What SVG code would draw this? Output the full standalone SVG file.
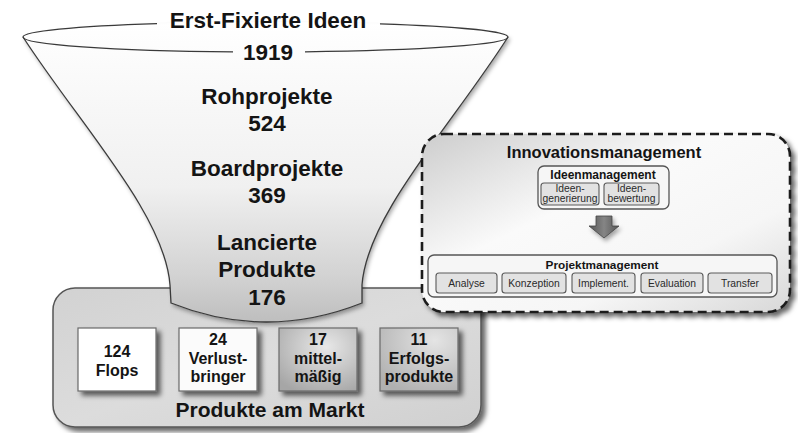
<svg xmlns="http://www.w3.org/2000/svg" width="798" height="433" viewBox="0 0 798 433">
<defs>
<style>
.t{font-family:"Liberation Sans",Arial,sans-serif;font-weight:bold;text-anchor:middle;fill:#141414}
.f{font-size:22.5px}
.b{font-size:16px}
.s{font-family:"Liberation Sans",Arial,sans-serif;text-anchor:middle;fill:#2a2a2a;font-size:10.3px}
.sb{fill:#e2e2e2;stroke:#5a5a5a;stroke-width:1.1}
.pb{stroke:#6a6a6a;stroke-width:1.2}
.ln{fill:none;stroke:#3a3a3a;stroke-width:1.3}
</style>
<filter id="sh" x="-20%" y="-20%" width="150%" height="150%">
<feDropShadow dx="4" dy="4" stdDeviation="2.5" flood-color="#000" flood-opacity="0.6"/>
</filter>
<filter id="shs" x="-20%" y="-20%" width="150%" height="150%">
<feDropShadow dx="2" dy="3" stdDeviation="2" flood-color="#000" flood-opacity="0.35"/>
</filter>
<linearGradient id="gFun" x1="0" y1="0" x2="0" y2="1">
<stop offset="0" stop-color="#ffffff"/>
<stop offset="0.55" stop-color="#f0f0f0"/>
<stop offset="0.85" stop-color="#d2d2d2"/>
<stop offset="1" stop-color="#bebebe"/>
</linearGradient>
<linearGradient id="gBox" x1="0" y1="0" x2="1" y2="1">
<stop offset="0" stop-color="#d2d2d2"/>
<stop offset="0.5" stop-color="#dcdcdc"/>
<stop offset="1" stop-color="#d0d0d0"/>
</linearGradient>
<radialGradient id="gMid" cx="0.6" cy="0.3" r="0.8">
<stop offset="0" stop-color="#e8e8e8"/>
<stop offset="1" stop-color="#a6a6a6"/>
</radialGradient>
<radialGradient id="gErf" cx="0.7" cy="0.2" r="0.9">
<stop offset="0" stop-color="#e4e4e4"/>
<stop offset="1" stop-color="#b0b0b0"/>
</radialGradient>
<linearGradient id="gIn" x1="0" y1="0" x2="1" y2="1">
<stop offset="0" stop-color="#cdcdcd"/>
<stop offset="0.4" stop-color="#fafafa"/>
<stop offset="0.7" stop-color="#f6f6f6"/>
<stop offset="1" stop-color="#d8d8d8"/>
</linearGradient>
<linearGradient id="gArr" x1="0" y1="0" x2="1" y2="0">
<stop offset="0" stop-color="#555"/>
<stop offset="0.5" stop-color="#858585"/>
<stop offset="1" stop-color="#555"/>
</linearGradient>
</defs>
<rect width="798" height="433" fill="#fff"/>

<g id="markt">
<rect x="53" y="288" width="428" height="139" rx="22" fill="url(#gBox)" stroke="#555" stroke-width="1.5" filter="url(#sh)"/>
<text class="t" x="270" y="417" font-size="21">Produkte am Markt</text>
</g>

<g id="funnel">
<path d="M23,37 C80,125 165,215 170,285 L171,303 Q266,341 362,303 L362,285 C367,215 452,125 508,37 A242.5,15 0 0 0 23,37 Z" fill="url(#gFun)" filter="url(#shs)"/>
<path class="ln" d="M23,37 C80,125 165,215 170,285 L171,303 Q266,341 362,303 L362,285 C367,215 452,125 508,37"/>
<path class="ln" d="M23,37 A242.5,15 0 0 1 157,23.6 M380,23.8 A242.5,15 0 0 1 508,37 A242.5,15 0 0 1 305,51.8 M233,51.9 A242.5,15 0 0 1 23,37"/>
<text class="t f" x="268" y="28">Erst-Fixierte Ideen</text>
<text class="t f" x="268" y="60">1919</text>
<text class="t f" x="267" y="104">Rohprojekte</text>
<text class="t f" x="267" y="131">524</text>
<text class="t f" x="267" y="176">Boardprojekte</text>
<text class="t f" x="267" y="203">369</text>
<text class="t f" x="267" y="250">Lancierte</text>
<text class="t f" x="267" y="277">Produkte</text>
<text class="t f" x="267" y="305">176</text>
</g>

<g id="flops">
<rect x="78" y="328" width="78" height="63" fill="#ffffff" class="pb" filter="url(#sh)"/>
<text class="t b" x="117" y="357">124</text>
<text class="t b" x="117" y="376">Flops</text>
</g>
<g id="verlust">
<rect x="179" y="328" width="78" height="63" fill="#fbfbfb" class="pb" filter="url(#sh)"/>
<text class="t b" x="218" y="345">24</text>
<text class="t b" x="218" y="364">Verlust-</text>
<text class="t b" x="218" y="382">bringer</text>
</g>
<g id="mittel">
<rect x="279" y="328" width="78" height="63" fill="url(#gMid)" class="pb" filter="url(#sh)"/>
<text class="t b" x="318" y="345">17</text>
<text class="t b" x="318" y="364">mittel-</text>
<text class="t b" x="318" y="382">mäßig</text>
</g>
<g id="erfolg">
<rect x="380" y="328" width="78" height="63" fill="url(#gErf)" class="pb" filter="url(#sh)"/>
<text class="t b" x="419" y="345">11</text>
<text class="t b" x="419" y="364">Erfolgs-</text>
<text class="t b" x="419" y="382">produkte</text>
</g>

<g id="innovation">
<rect x="422" y="134" width="368" height="178" rx="22" fill="url(#gIn)" stroke="#1e1e1e" stroke-width="2.6" stroke-dasharray="9,5" filter="url(#sh)"/>
<text class="t" x="604" y="158" font-size="16.5">Innovationsmanagement</text>
</g>

<g id="ideen">
<rect x="538" y="166" width="131" height="43" rx="6" fill="#f6f6f6" stroke="#555" stroke-width="1.3"/>
<text class="t" x="603" y="179" font-size="12">Ideenmanagement</text>
</g>
<g id="generierung">
<rect x="541" y="183" width="58" height="22" rx="3" class="sb"/>
<text class="s" x="570" y="191.5" font-size="9">Ideen-</text>
<text class="s" x="570" y="202" font-size="9">generierung</text>
</g>
<g id="bewertung">
<rect x="604" y="183" width="55" height="22" rx="3" class="sb"/>
<text class="s" x="631.5" y="191.5" font-size="9">Ideen-</text>
<text class="s" x="631.5" y="202" font-size="9">bewertung</text>
</g>

<g id="projekt">
<rect x="428" y="255" width="349" height="42" rx="6" fill="#f6f6f6" stroke="#555" stroke-width="1.3"/>
<text class="t" x="602" y="269" font-size="11.8">Projektmanagement</text>
</g>
<g id="analyse">
<rect x="436" y="273" width="61" height="20" rx="3" class="sb"/>
<text class="s" x="466.5" y="287">Analyse</text>
</g>
<g id="konzeption">
<rect x="502" y="273" width="64" height="20" rx="3" class="sb"/>
<text class="s" x="534" y="287">Konzeption</text>
</g>
<g id="implement">
<rect x="572" y="273" width="63" height="20" rx="3" class="sb"/>
<text class="s" x="603.5" y="287">Implement.</text>
</g>
<g id="evaluation">
<rect x="641" y="273" width="62" height="20" rx="3" class="sb"/>
<text class="s" x="672" y="287">Evaluation</text>
</g>
<g id="transfer">
<rect x="708" y="273" width="64" height="20" rx="3" class="sb"/>
<text class="s" x="740" y="287">Transfer</text>
</g>

<g id="connectors">
<path d="M596,216 L612,216 L612,226 L619,226 L604,238 L589,226 L596,226 Z" fill="url(#gArr)" stroke="#444" stroke-width="0.8" filter="url(#shs)"/>
</g>
</svg>
